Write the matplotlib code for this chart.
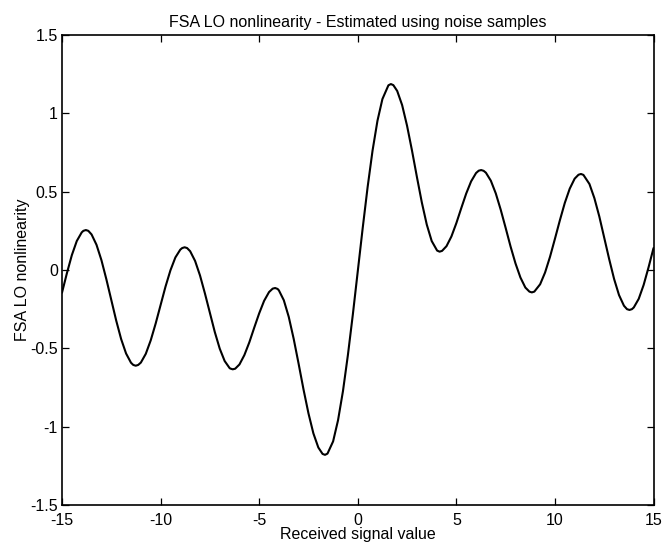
import matplotlib
matplotlib.use("Agg")
import matplotlib.pyplot as plt

plt.rcParams['font.family'] = ['Liberation Sans', 'DejaVu Sans']
plt.rcParams['axes.unicode_minus'] = False

signal_value = [-15, -14.75, -14.5, -14.25, -14.0, -13.915, -13.79, -13.665, -13.5, -13.25, -13.0, -12.75,
                -12.5, -12.25, -12.0, -11.75, -11.5, -11.385, -11.26, -11.135, -11.0, -10.75, -10.5, -10.25,
                -10.0, -9.75, -9.5, -9.25, -9.0, -8.905, -8.78, -8.655, -8.5, -8.25, -8.0, -7.75,
                -7.5, -7.25, -7.0, -6.75, -6.5, -6.465, -6.34, -6.215, -6.0, -5.75, -5.5, -5.25,
                -5.0, -4.75, -4.5, -4.315, -4.19, -4.065, -4.0, -3.75, -3.5, -3.25, -3.0, -2.75,
                -2.5, -2.25, -2.0, -1.785, -1.66, -1.535, -1.25, -1.0, -0.75, -0.5,
                -0.25, 0.0, 0.25, 0.5, 0.75, 1.0, 1.25, 1.555, 1.68, 1.805, 2.0,
                2.25, 2.5, 2.75, 3.0, 3.25, 3.5, 3.75, 4.025, 4.15, 4.275, 4.5,
                4.75, 5.0, 5.25, 5.5, 5.75, 6.0, 6.135, 6.26, 6.385, 6.5, 6.75, 7.0,
                7.25, 7.5, 7.75, 8.0, 8.25, 8.5, 8.705, 8.83, 8.955, 9.25, 9.5,
                9.75, 10.0, 10.25, 10.5, 10.75, 11.0, 11.195, 11.32, 11.445, 11.75, 12.0,
                12.25, 12.5, 12.75, 13.0, 13.25, 13.5, 13.655, 13.78, 13.905, 14.0, 14.25, 14.5,
                14.75, 15.0]

nonlinearity = [-0.145, -0.02, 0.095, 0.185, 0.24, 0.250, 0.255, 0.250, 0.227, 0.161, 0.063, -0.059,
                -0.191, -0.323, -0.441, -0.533, -0.592, -0.606, -0.611, -0.606, -0.591, -0.535, -0.449, -0.342,
                -0.223, -0.106, -0.002, 0.080, 0.130, 0.140, 0.145, 0.140, 0.120, 0.058, -0.035, -0.150,
                -0.274, -0.396, -0.502, -0.581, -0.626, -0.629, -0.634, -0.630, -0.603, -0.543, -0.462, -0.368,
                -0.277, -0.197, -0.141, -0.119, -0.115, -0.121, -0.130, -0.193, -0.299, -0.439, -0.598, -0.763,
                -0.915, -1.043, -1.133, -1.174, -1.18, -1.172, -1.094, -0.959, -0.773, -0.543,
                -0.285, -0.007, 0.267, 0.529, 0.762, 0.953, 1.091, 1.179, 1.187, 1.180, 1.143,
                1.053, 0.921, 0.763, 0.594, 0.431, 0.290, 0.185, 0.124, 0.117, 0.122, 0.152,
                0.214, 0.299, 0.395, 0.488, 0.566, 0.619, 0.634, 0.638, 0.633, 0.621, 0.570, 0.489,
                0.385, 0.269, 0.150, 0.042, -0.048, -0.112, -0.138, -0.143, -0.138, -0.091, -0.016,
                0.084, 0.199, 0.317, 0.428, 0.519, 0.583, 0.608, 0.613, 0.607, 0.549, 0.459,
                0.342, 0.207, 0.070, -0.057, -0.160, -0.228, -0.250, -0.255, -0.250, -0.239, -0.184, -0.095,
                0.018, 0.14]

x_ticks = [-15, -10, -5, 0, 5, 10, 15]
x_tick_labels = ['-15', '-10', '-5', '0', '5', '10', '15']
y_ticks = [-1.5, -1, -0.5, 0, 0.5, 1, 1.5]
y_tick_labels = ['-1.5', '-1', '-0.5', '0', '0.5', '1', '1.5']

fig = plt.figure(figsize=(6.63, 5.48), dpi=100)
ax = fig.add_axes([0.0935, 0.0785, 0.8922, 0.8576])
ax.plot(signal_value, nonlinearity, color='black', linewidth=1.5,
        solid_joinstyle='round', solid_capstyle='round')
ax.set_xlim(-15, 15)
ax.set_ylim(-1.5, 1.5)
ax.set_xticks(x_ticks)
ax.set_xticklabels(x_tick_labels)
ax.set_yticks(y_ticks)
ax.set_yticklabels(y_tick_labels)
ax.tick_params(direction='in', length=5, width=0.9, top=True, right=True,
               labelsize=11.5, colors='black')
ax.tick_params(axis='x', pad=6)
ax.tick_params(axis='y', pad=3)
for s in ax.spines.values():
    s.set_linewidth(1.2)
ax.set_title('FSA LO nonlinearity - Estimated using noise samples', fontsize=11.5, pad=6)
ax.set_xlabel('Received signal value', fontsize=11.5, labelpad=-1)
ax.set_ylabel('FSA LO nonlinearity', fontsize=11.5, labelpad=0)

fig.savefig('out.png', dpi=100)
